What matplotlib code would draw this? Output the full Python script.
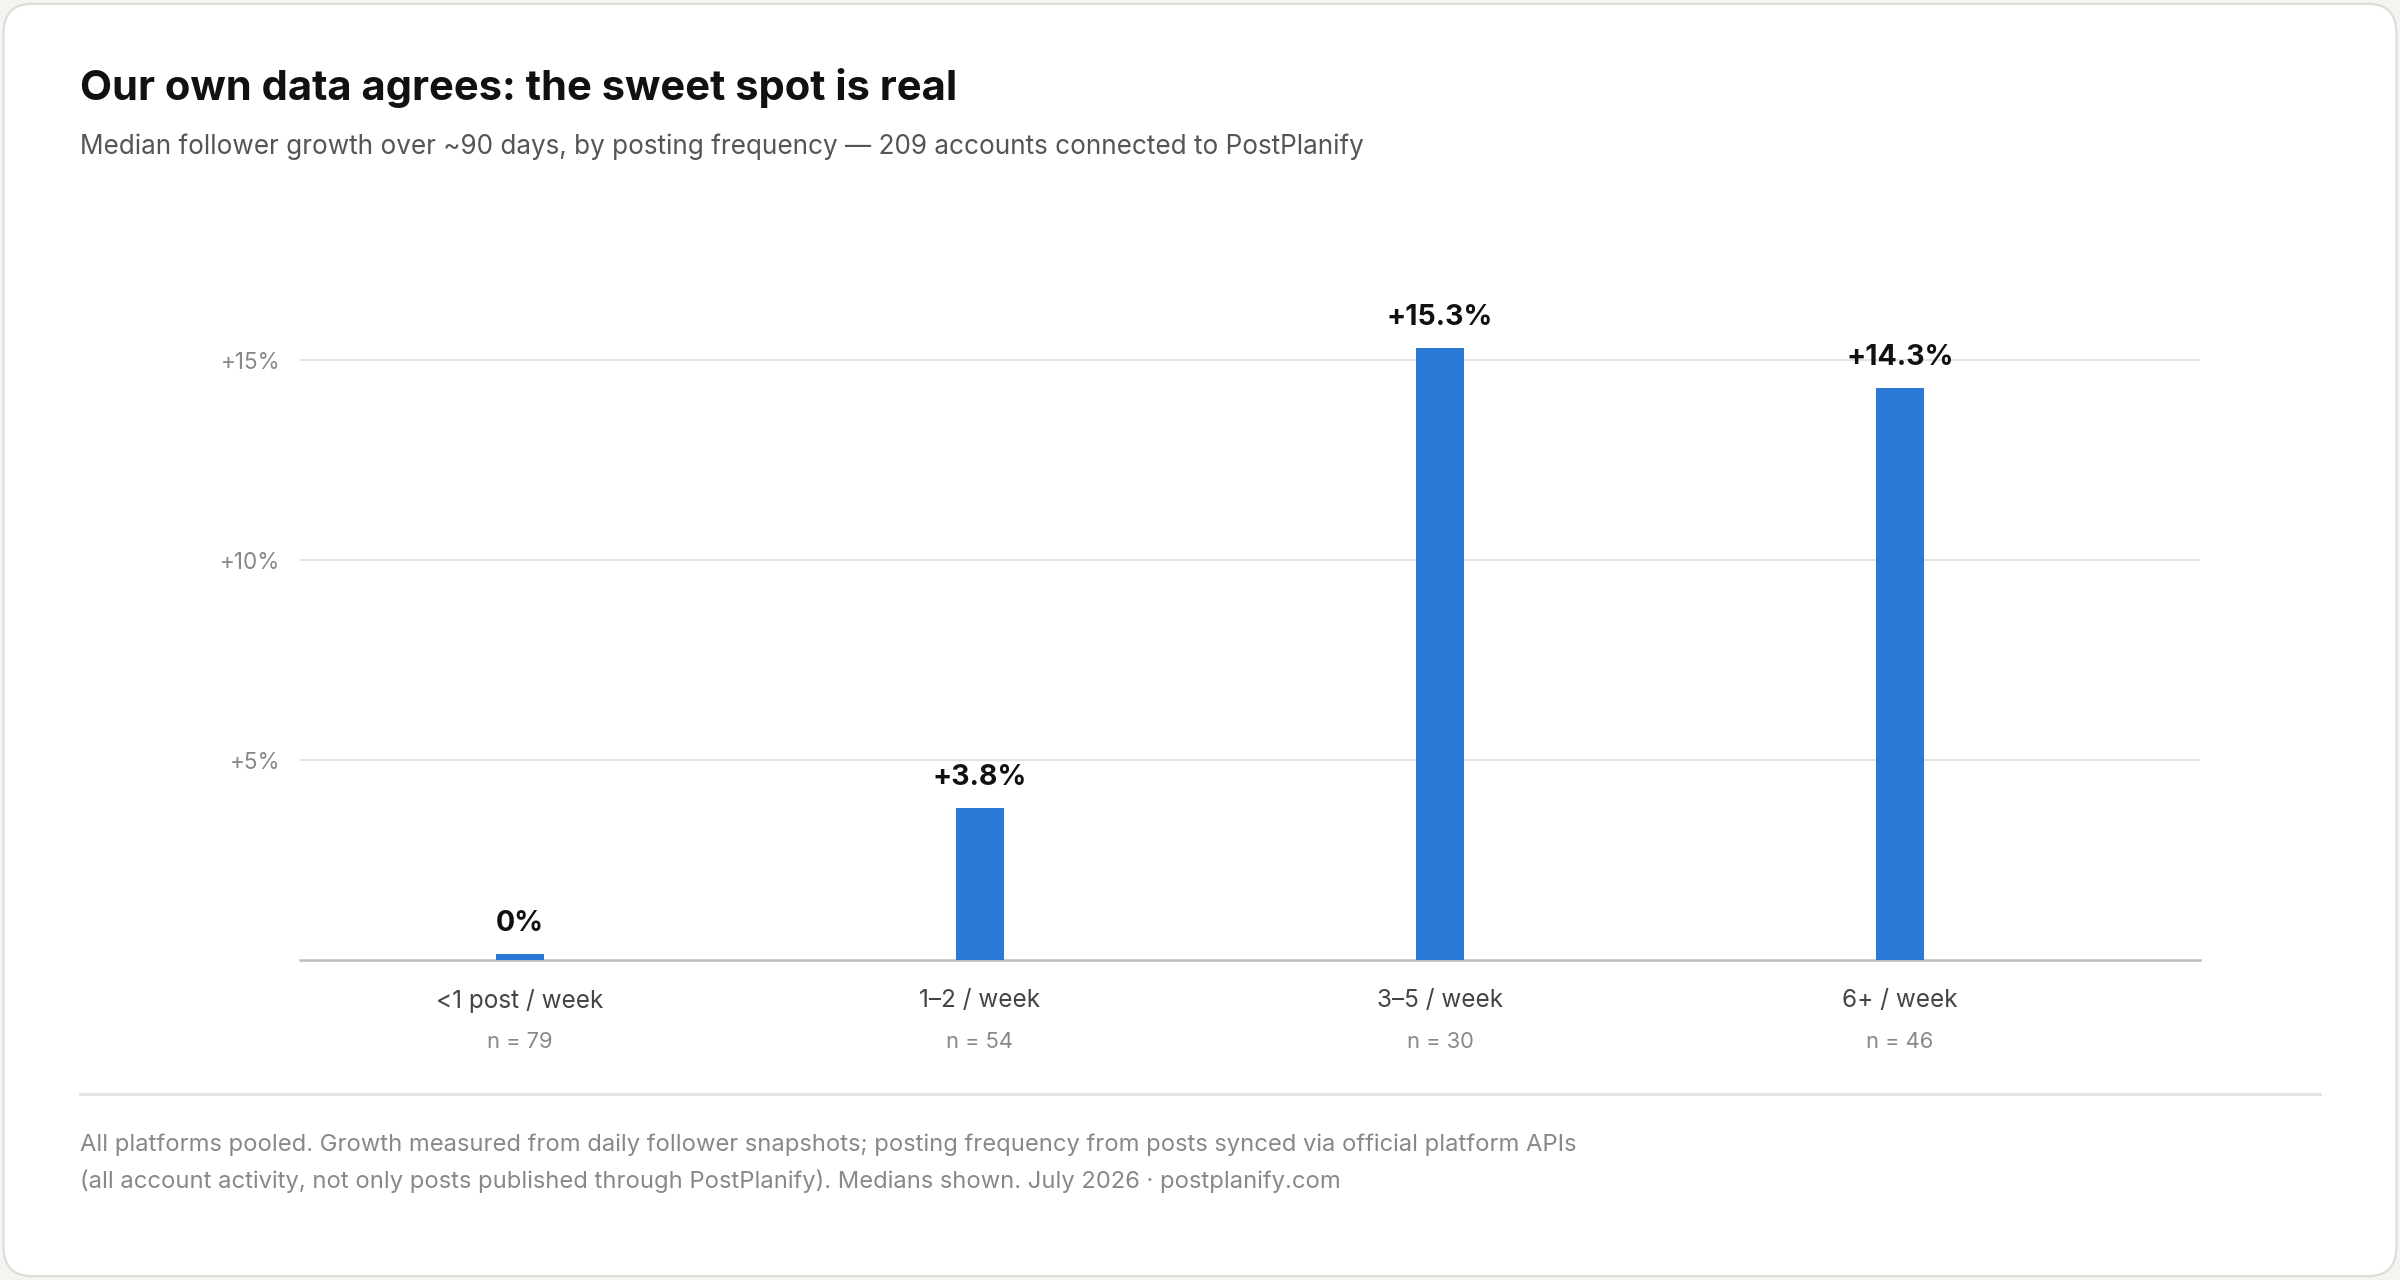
import numpy as np
import matplotlib.pyplot as plt
from matplotlib.patches import FancyBboxPatch
from matplotlib.transforms import offset_copy

# Data
categories = ['<1 post / week', '1–2 / week', '3–5 / week', '6+ / week']
growth = [0.0, 3.8, 15.3, 14.3]          # median follower growth, %
counts = [79, 54, 30, 46]                # accounts per bucket
yticks = [5, 10, 15]

plt.rcParams['font.family'] = ['Inter', 'DejaVu Sans']

fig = plt.figure(figsize=(24, 12.8), dpi=100)
fig.patch.set_facecolor('#f4f4f1')

# card background with rounded corners (kept behind the axes)
card = FancyBboxPatch((0.0015, 0.003), 0.997, 0.994, boxstyle='round,pad=0,rounding_size=0.012',
                      transform=fig.transFigure, fc='white', ec='#dcdcd6', lw=1.5,
                      mutation_aspect=2400 / 1280, zorder=-10)
fig.patches.append(card)

ax = fig.add_axes([0.125, 0.25, 0.7917, 0.5156])
ax.set_facecolor('none')

x = np.arange(len(categories))
# tiny bar so the zero bucket is still visible
shown = [max(v, 0.15) for v in growth]
ax.bar(x, shown, width=0.104, color='#2a79d6', zorder=3)

for xi, v in zip(x, growth):
    lab = '0%' if v == 0 else f'+{v:.1f}%'
    ax.annotate(lab, (xi, max(v, 0.15)), xytext=(0, 12), textcoords='offset points',
                ha='center', va='bottom', fontsize=20.5, fontweight='bold', color='#111111')

ax.set_xlim(-0.478, 3.652)
ax.set_ylim(0, 16.5)

ax.set_yticks(yticks)
ax.set_yticklabels([f'+{t}%' for t in yticks])
ax.tick_params(axis='y', length=0, pad=14, labelsize=16.2, labelcolor='#888888')
ax.grid(axis='y', color='#e2e2de', lw=1.5, zorder=0)

ax.set_xticks(x)
ax.set_xticklabels(categories)
ax.tick_params(axis='x', length=0, pad=21, labelsize=17.5, labelcolor='#444444')
n_trans = offset_copy(ax.get_xaxis_transform(), fig=fig, x=0, y=-52, units='points')
for xi, n in zip(x, counts):
    ax.text(xi, 0, f'n = {n}', transform=n_trans, ha='center', va='top',
            fontsize=15.8, color='#888888')

for s in ['top', 'right', 'left']:
    ax.spines[s].set_visible(False)
ax.spines['bottom'].set_color('#bdbdb5')
ax.spines['bottom'].set_linewidth(1.8)

# header
fig.text(80 / 2400, 1 - 88 / 1280, 'Our own data agrees: the sweet spot is real',
         fontsize=30, fontweight='bold', color='#111111', va='center', ha='left')
fig.text(80 / 2400, 1 - 147 / 1280,
         'Median follower growth over ~90 days, by posting frequency — 209 accounts connected to PostPlanify',
         fontsize=18.8, color='#555555', va='center', ha='left')

# footer
fig.add_artist(plt.Line2D([80 / 2400, 2320 / 2400], [1 - 1094 / 1280] * 2,
                          transform=fig.transFigure, color='#e2e2de', lw=2))
fig.text(80 / 2400, 1 - 1145 / 1280,
         'All platforms pooled. Growth measured from daily follower snapshots; posting frequency from posts synced via official platform APIs',
         fontsize=17.1, color='#888888', va='center', ha='left')
fig.text(80 / 2400, 1 - 1181 / 1280,
         '(all account activity, not only posts published through PostPlanify). Medians shown. July 2026 · postplanify.com',
         fontsize=17.1, color='#888888', va='center', ha='left')

fig.savefig('out.png', dpi=100, facecolor=fig.get_facecolor())
